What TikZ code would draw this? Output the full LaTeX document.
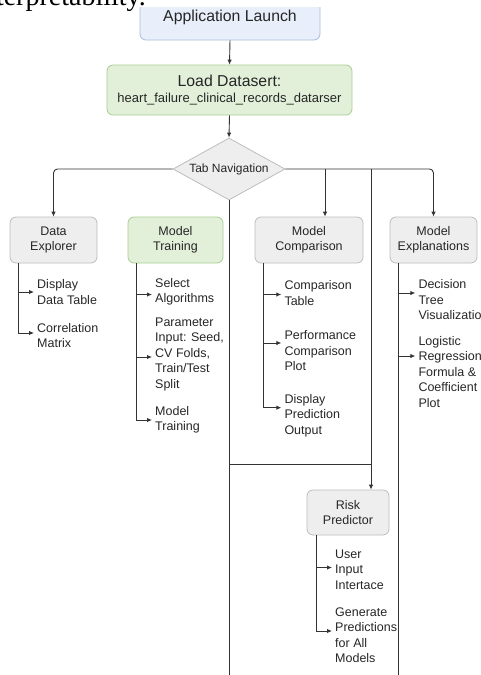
\documentclass[tikz,border=0pt]{standalone}
\usepackage{fontspec}
\setmainfont{Liberation Sans}
\newfontfamily\serifpart{Liberation Serif}
\usetikzlibrary{shapes.geometric,arrows.meta,calc}

\definecolor{linec}{HTML}{333333}
\definecolor{bluefill}{HTML}{E8EFFA}
\definecolor{blueline}{HTML}{A8BCDB}
\definecolor{greenfill}{HTML}{E2F0DA}
\definecolor{greenline}{HTML}{A6CF91}
\definecolor{greyfill}{HTML}{EEEEEE}
\definecolor{greyline}{HTML}{BDBDBD}

\begin{document}
\begin{tikzpicture}[x=1pt,y=-1pt,
  conn/.style={draw=linec, line width=0.9pt},
  arr/.style={conn, -{Latex[length=5pt,width=4.5pt]}},
  box/.style={draw=greyline, fill=greyfill, rounded corners=6pt, line width=0.8pt,
    align=center, font=\fontsize{12.5}{15.5}\selectfont, inner sep=0pt, text=black!85},
  greenbox/.style={box, draw=greenline, fill=greenfill},
  item/.style={anchor=west, align=left, inner xsep=3pt, inner ysep=0pt,
    font=\fontsize{12.5}{15.5}\selectfont, text=black!85},
]
\clip (0,0) rectangle (480,675);

\node[anchor=base east, inner sep=0pt, font=\serifpart\fontsize{28}{30}\selectfont] (frag) at (146,5) {interpretability.};

\begin{scope}
\clip (0,7.5) rectangle (480,675);
\node[box, draw=blueline, fill=bluefill, minimum width=180pt, minimum height=46pt,
  font=\fontsize{15.8}{18}\selectfont] (app) at (230,17) {Application Launch};
\end{scope}

\node[greenbox, minimum width=245pt, minimum height=50pt] (load) at (229.5,90)
  {{\fontsize{15.8}{17}\selectfont Load Datasert:}\\[0pt]{\fontsize{13}{17}\selectfont heart\_failure\_clinical\_records\_datarser}};

\node[diamond, aspect=1.8, draw=greyline, fill=greyfill, line width=0.8pt,
  minimum width=112pt, minimum height=62pt, inner sep=0pt,
  font=\fontsize{12}{14}\selectfont, text=black!85] (tab) at (229,169) {Tab Navigation};

\node[box, minimum width=87pt, minimum height=46pt] (de) at (53.5,240) {Data\\Explorer};
\node[greenbox, minimum width=95pt, minimum height=46pt] (mt) at (175.5,240) {Model\\Training};
\node[box, minimum width=108pt, minimum height=46pt] (mc) at (309,240) {Model\\Comparison};
\node[box, minimum width=87pt, minimum height=46pt] (me) at (433.5,240) {Model\\Explanations};
\node[box, minimum width=82pt, minimum height=45pt] (rp) at (348,512.5) {Risk\\Predictor};

\node[item] (de1) at (34,292) {Display\\Data Table};
\node[item] (de2) at (34,335.5) {Correlation\\Matrix};
\node[item] (mt1) at (152,292) {Select\\Algorithms};
\node[item] (mt2) at (152,354.4) {Parameter\\Input: Seed,\\CV Folds,\\Train/Test\\Split};
\node[item] (mt3) at (152,420) {Model\\Training};
\node[item] (mc1) at (281.3,293) {Comparison\\Table};
\node[item] (mc2) at (281.3,351) {Performance\\Comparison\\Plot};
\node[item] (mc3) at (281.3,415.7) {Display\\Prediction\\Output};
\node[item] (me1) at (415.3,300) {Decision\\Tree\\Visualization};
\node[item] (me2) at (415.3,372) {Logistic\\Regression\\Formula \&\\Coefficient\\Plot};
\node[item] (rp1) at (332,569.5) {User\\Input\\Intertace};
\node[item] (rp2) at (332,635) {Generate\\Predictions\\for All\\Models};

% main flow
\draw[arr] (app.south) -- (load.north);
\draw[arr] (load.south) -- (tab.north);
\draw[arr, rounded corners=4pt] (tab.west) -| (de.north);
\draw[arr, rounded corners=4pt] (tab.east) -| (me.north);
\coordinate (mcin) at ($(mc.north)+(16,0)$);
\draw[arr] (tab.east -| mcin) -- (mcin);
\coordinate (rpin) at ($(rp.north)+(23,0)$);
\draw[arr] (tab.east -| rpin) -- (rpin);
\coordinate (bot) at (0,680);
\coordinate (jn) at (0,464);
\draw[conn] (tab.south) -- (tab.south |- bot);
\draw[conn] (tab.south |- jn) -- (rpin |- jn);

% trunks
\coordinate (detr) at ($(de.south west)+(9,0)$);
\draw[arr] (detr) |- (de1.west);
\draw[arr] (detr) |- ($(de2.west)+(0,-2.5)$);

\coordinate (mttr) at ($(mt.south west)+(9,0)$);
\draw[arr] (mttr) |- ($(mt1.west)+(0,2.5)$);
\draw[arr] (mttr) |- ($(mt2.west)+(0,2.6)$);
\draw[arr] (mttr) |- (mt3.west);

\coordinate (mctr) at ($(mc.south west)+(9,0)$);
\draw[arr] (mctr) |- ($(mc1.west)+(0,1.5)$);
\draw[arr] (mctr) |- ($(mc2.west)+(0,-8)$);
\draw[arr] (mctr) |- ($(mc3.west)+(0,-8)$);

\coordinate (metr) at ($(me.south west)+(9,0)$);
\draw[conn] (metr) -- (metr |- bot);
\draw[arr] (metr) |- ($(me1.west)+(0,-7)$);
\draw[arr] (metr) |- ($(me2.west)+(0,-16)$);

\coordinate (rptr) at ($(rp.south west)+(10,0)$);
\draw[arr] (rptr) |- ($(rp1.west)+(0,-2)$);
\draw[arr] (rptr) |- ($(rp2.west)+(0,-4)$);
\end{tikzpicture}
\end{document}
